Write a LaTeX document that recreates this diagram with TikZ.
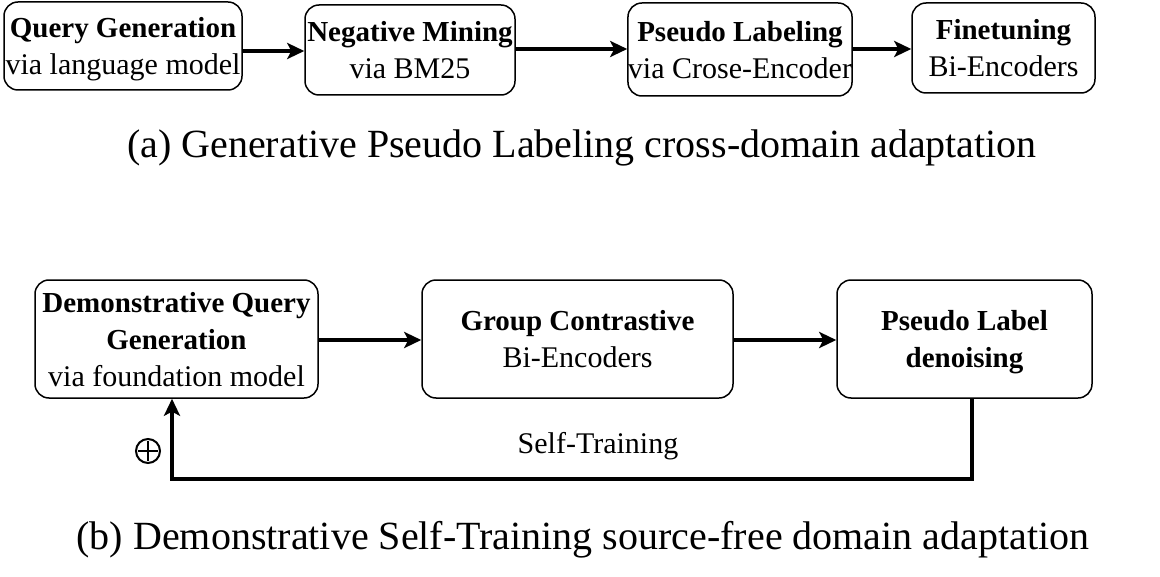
\documentclass[tikz,border=0pt]{standalone}
\usepackage{fontspec}
\setmainfont{Liberation Serif}
\usetikzlibrary{arrows.meta}
\newcommand{\bt}[1]{{\fontsize{14.5pt}{18.5pt}\selectfont\bfseries #1}}
\begin{document}
\begin{tikzpicture}[x=0.5pt,y=-0.5pt,
  box/.style={draw, line width=0.75pt, rounded corners=7pt, align=center, inner sep=0pt,
    text depth=0pt, font=\fontsize{15pt}{18.5pt}\selectfont},
  arr/.style={line width=1.6pt, -{Stealth[length=8.5pt,width=8pt,inset=2pt]}},
  captext/.style={font=\fontsize{20pt}{24pt}\selectfont}]
\useasboundingbox (0,0) rectangle (1160,577);
% top row
\node[box, minimum width=119pt, minimum height=44pt] (q) at (123,46) {\bt{Query Generation}\\via language model};
\node[box, minimum width=105pt, minimum height=45pt] (n) at (410,50) {\bt{Negative Mining}\\via BM25};
\node[box, minimum width=112pt, minimum height=46.5pt] (p) at (740,49.5) {\bt{Pseudo Labeling}\\via Crose-Encoder};
\node[box, minimum width=91.5pt, minimum height=45pt] (f) at (1003.5,48) {\bt{Finetuning}\\Bi-Encoders};
\draw[arr] (q.east |- 0,51) -- (n.west |- 0,51);
\draw[arr] (n.east |- 0,49) -- (p.west |- 0,49);
\draw[arr] (p.east |- 0,49) -- (f.west |- 0,49);
\node[captext] (capa) at (582,148) {(a) Generative Pseudo Labeling cross-domain adaptation};
% bottom row
\node[box, minimum width=141.5pt, minimum height=59pt] (a) at (176.5,339) {\bt{Demonstrative Query}\\\bt{Generation}\\via foundation model};
\node[box, minimum width=155.5pt, minimum height=59pt] (b) at (577.5,339) {\bt{Group Contrastive}\\Bi-Encoders};
\node[box, minimum width=127.5pt, minimum height=59pt] (c) at (964.5,339) {\bt{Pseudo Label}\\\bt{denoising}};
\draw[arr] (a.east |- 0,340) -- (b.west |- 0,340);
\draw[arr] (b.east |- 0,340) -- (c.west |- 0,340);
\coordinate (fbR) at (972,479);
\coordinate (fbL) at (172,479);
\draw[arr] (c.south -| fbR) -- (fbR) -- (fbL) -- (a.south -| fbL);
\node[font=\fontsize{15pt}{18pt}\selectfont] (st) at (598,446) {Self-Training};
\node[circle, draw, line width=1pt, minimum size=12pt, inner sep=0pt] (plus) at (148,451) {};
\draw[line width=1pt] ([yshift=-1.5pt]plus.north) -- ([yshift=1.5pt]plus.south);
\draw[line width=1pt] ([xshift=1.5pt]plus.west) -- ([xshift=-1.5pt]plus.east);
\node[captext] (capb) at (583,540) {(b) Demonstrative Self-Training source-free domain adaptation};
\end{tikzpicture}
\end{document}
